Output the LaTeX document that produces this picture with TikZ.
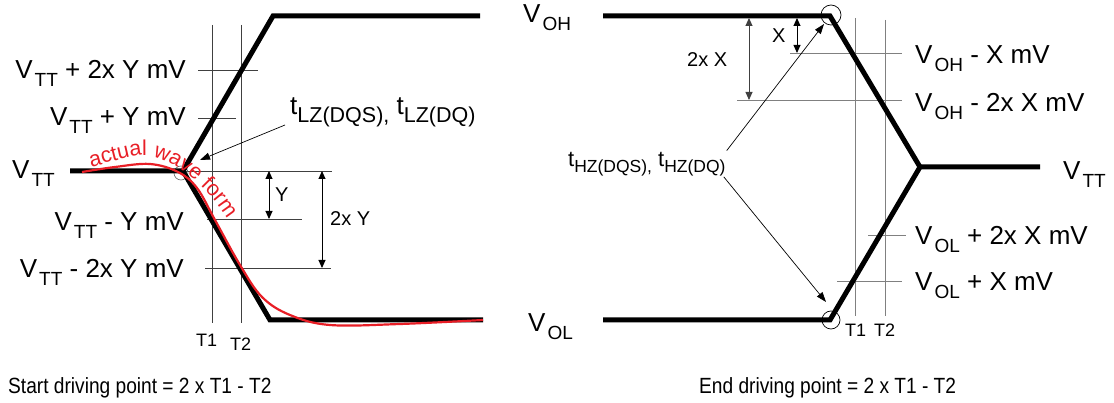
\documentclass[tikz,border=0pt]{standalone}
\usepackage{fontspec}
\setmainfont{Liberation Sans}
\usetikzlibrary{arrows.meta,decorations.text}
\definecolor{wfred}{RGB}{232,30,38}
\newcommand{\lv}[2]{#1\hspace{2pt}\raisebox{-7.5pt}{\fontsize{19}{19}\selectfont #2}}
\newcommand{\tsub}[3]{\raisebox{-#1}{\fontsize{#2}{#2}\selectfont #3}}
\newcommand{\wavefont}{\fontsize{21.5}{25}\selectfont}
\tikzset{
  wave/.style={line width=5pt, line join=miter},
  gridl/.style={line width=0.8pt, draw=black!75},
  gridr/.style={line width=0.9pt, draw=black!50},
  dimarr/.style={line width=0.9pt, {Triangle[length=8pt,width=7pt]}-{Triangle[length=8pt,width=7pt]}},
  ptr/.style={line width=0.7pt, -{Triangle[length=10pt,width=7pt]}},
  lvl/.style={inner sep=0pt, font=\fontsize{26}{30}\selectfont},
  smalllbl/.style={inner sep=0pt, font=\fontsize{20}{24}\selectfont},
  tlab/.style={inner sep=0pt, font=\fontsize{18}{22}\selectfont},
  foot/.style={inner sep=0pt, font=\fontsize{22}{26}\selectfont},
}
\begin{document}
\begin{tikzpicture}[x=1pt,y=-1pt]
\useasboundingbox (0,0) rectangle (1114,403);

% ---------- LEFT: key points ----------
\coordinate (Lstart) at (70,171);
\coordinate (Lc) at (183,171);
\coordinate (Ltop) at (273,16);
\coordinate (Ltopend) at (480,16);
\coordinate (Lbot) at (270,320);
\coordinate (Lbotend) at (483,320);

% grid lines (left)
\draw[gridl] (212,25) coordinate (LT1a) -- (212,323) coordinate (LT1b);
\draw[gridl] (241,25) coordinate (LT2a) -- (241,323) coordinate (LT2b);
\draw[gridl] (198,70) coordinate (Lh1a) -- (258,70) coordinate (Lh1b);
\draw[gridl] (198,118) coordinate (Lh2a) -- (236,118) coordinate (Lh2b);
\draw[gridl] (Lc) -- (332,171) coordinate (Lh0b);
\draw[gridl] (207,219) coordinate (Lh3a) -- (302,219) coordinate (Lh3b);
\draw[gridl] (205,268) coordinate (Lh4a) -- (331,268) coordinate (Lh4b);
\draw[line width=0.6pt, draw=black!60] (181,173) circle[radius=7pt];

% waveform (left)
\draw[wave] (Lstart) -- (Lc) -- (Ltop) -- (Ltopend);
\draw[wave] (Lc) -- (Lbot) -- (Lbotend);

% actual wave form
\draw[wfred, line width=2.2pt] plot[smooth, tension=0.6] coordinates {(82,172) (115,167) (150,164) (178,172) (197,188) (215,220) (240,265) (262,297) (290,315) (330,325) (400,324) (483,320)};
\path[decorate, decoration={text along path, text color=wfred, text={|\wavefont|actual wave form}}]
  (91,167) .. controls (118,160) and (140,153) .. (151,156) .. controls (177,162) and (208,186) .. (232,226);

% dimension arrows (left)
\draw[dimarr] (269,171) coordinate (Ya) -- (269,219) coordinate (Yb);
\draw[dimarr] (322,171) coordinate (YYa) -- (322,268) coordinate (YYb);
\node[smalllbl, anchor=base west] (lY) at (275,202) {Y};
\node[smalllbl, anchor=base west] (l2Y) at (330,226) {2x Y};

% labels (left)
\node[lvl, anchor=base east] (lp2) at (186,79) {\lv{V}{TT} + 2x Y mV};
\node[lvl, anchor=base east] (lp1) at (186,126) {\lv{V}{TT} + Y mV};
\node[lvl, anchor=base west] (lvtt) at (12,179) {\lv{V}{TT}};
\node[lvl, anchor=base east] (lm1) at (184,231) {\lv{V}{TT} - Y mV};
\node[lvl, anchor=base east] (lm2) at (184,278) {\lv{V}{TT} - 2x Y mV};
\node[tlab, anchor=base west] (lT1) at (196,347) {T1};
\node[tlab, anchor=base west] (lT2) at (230,350) {T2};

\node[lvl, anchor=base west] (tlz) at (290,115)
  {t\tsub{8pt}{21.5}{LZ(DQS),} t\tsub{8pt}{21.5}{LZ(DQ)}};
\coordinate (lzfrom) at (285,125);
\coordinate (lzto) at (200,160);
\draw[ptr] (lzfrom) -- (lzto);

% ---------- RIGHT ----------
\coordinate (Rstart) at (603,16);
\coordinate (Rtop) at (830,16);
\coordinate (Rmid) at (920,167);
\coordinate (Rend) at (1040,167);
\coordinate (Rbot) at (830,320);
\coordinate (Rbotstart) at (603,320);

\draw[gridr] (855,18) coordinate (RT1a) -- (855,316) coordinate (RT1b);
\draw[gridr] (885,20) coordinate (RT2a) -- (885,316) coordinate (RT2b);
\draw[gridr] (790,53) coordinate (Rh1a) -- (902,53) coordinate (Rh1b);
\draw[gridr] (737,100) coordinate (Rh2a) -- (902,100) coordinate (Rh2b);
\draw[gridr] (868,235) coordinate (Rh3a) -- (906,235) coordinate (Rh3b);
\draw[gridr] (837,281) coordinate (Rh4a) -- (902,281) coordinate (Rh4b);

\draw[wave] (Rstart) -- (Rtop) -- (Rmid) -- (Rend);
\draw[wave] (Rmid) -- (Rbot) -- (Rbotstart);

\draw[line width=0.7pt] (831,15) circle[radius=10pt];
\draw[line width=0.7pt] (831,320) circle[radius=9pt];

\draw[dimarr] (797,18) coordinate (Xa) -- (797,53) coordinate (Xb);
\draw[dimarr, draw=black!75] (749,18) coordinate (XXa) -- (749,100) coordinate (XXb);
\node[smalllbl, anchor=base west] (lX) at (772,43) {X};
\node[smalllbl, anchor=base west] (l2X) at (687,67) {2x X};

\node[lvl, anchor=base west] (rvoh) at (523,23) {\lv{V}{OH}};
\node[lvl, anchor=base west] (rvol) at (528,332) {\lv{V}{OL}};
\node[lvl, anchor=base west] (rvtt) at (1063,180) {\lv{V}{TT}};
\node[lvl, anchor=base west] (rm1) at (915,64) {\lv{V}{OH} - X mV};
\node[lvl, anchor=base west] (rm2) at (915,112) {\lv{V}{OH} - 2x X mV};
\node[lvl, anchor=base west] (rp2) at (915,245) {\lv{V}{OL} + 2x X mV};
\node[lvl, anchor=base west] (rp1) at (915,291) {\lv{V}{OL} + X mV};
\node[tlab, anchor=base west] (rT1) at (845,337) {T1};
\node[tlab, anchor=base west] (rT2) at (874,337) {T2};

\node[inner sep=0pt, font=\fontsize{22}{26}\selectfont, anchor=base west] (thz) at (568,167)
  {t\tsub{6pt}{17.5}{HZ(DQS),} t\tsub{6pt}{17.5}{HZ(DQ)}};
\coordinate (hztop) at (824,24);
\coordinate (hzbot) at (826,302);
\draw[ptr] ([shift={(1pt,2pt)}]thz.north east) -- (hztop);
\draw[ptr] ([shift={(-2pt,0pt)}]thz.south east) -- (hzbot);

% ---------- footers ----------
\node[foot, anchor=base west] (fl) at (8,393) {\scalebox{0.87}[1]{Start driving point = 2 x T1 - T2}};
\node[foot, anchor=base west] (fr) at (699,393) {\scalebox{0.87}[1]{End driving point = 2 x T1 - T2}};
\end{tikzpicture}
\end{document}
